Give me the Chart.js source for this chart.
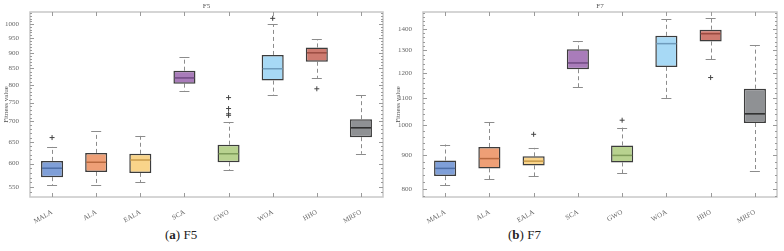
<!DOCTYPE html>
<html>
<head>
<meta charset="utf-8">
<script src="https://cdn.jsdelivr.net/npm/chart.js@4.4.0/dist/chart.umd.min.js"></script>
<style>
  body { margin: 0; background: #fff; width: 784px; height: 251px; overflow: hidden; position: relative; font-family: "Liberation Serif", serif; }
  canvas { position: absolute; top: 0; }
  #c5 { left: 0; }
  #c7 { left: 392px; }
  .cap { position: absolute; top: 227px; font-size: 13px; color: #222; white-space: nowrap; }
  .cap b { font-weight: 600; }
</style>
</head>
<body>
<canvas id="c5" width="392" height="225"></canvas>
<canvas id="c7" width="392" height="225"></canvas>
<div class="cap" style="left:165px">(<b>a</b>) F5</div>
<div class="cap" style="left:508px">(<b>b</b>) F7</div>
<script>
const categories = ['MALA', 'ALA', 'EALA', 'SCA', 'GWO', 'WOA', 'HHO', 'MRFO'];

// F5
const f5Min    = [555, 555, 561, 783, 586, 771, 821, 622];
const f5Q1     = [571, 582, 580, 804, 603, 813, 871, 661];
const f5Median = [590, 603, 608, 821, 622, 849, 900, 684];
const f5Q3     = [606, 624, 622, 843, 643, 893, 918, 706];
const f5Max    = [638, 676, 664, 886, 698, 999, 946, 770];
const f5Outliers = [
  { x: 'MALA', y: 660 }, { x: 'GWO', y: 764 }, { x: 'GWO', y: 734 },
  { x: 'GWO', y: 720 }, { x: 'GWO', y: 716 }, { x: 'WOA', y: 1021 }, { x: 'HHO', y: 789 }
];
const f5Ticks = [550, 600, 650, 700, 750, 800, 850, 900, 950, 1000];

// F7
const f7Min    = [810, 828, 836, 1143, 846, 1101, 1260, 852];
const f7Q1     = [837, 860, 869, 1217, 878, 1227, 1341, 1008];
const f7Median = [860, 890, 882, 1244, 900, 1331, 1378, 1041];
const f7Q3     = [884, 927, 897, 1305, 932, 1368, 1398, 1137];
const f7Max    = [935, 1011, 924, 1343, 992, 1450, 1455, 1324];
const f7Outliers = [{ x: 'EALA', y: 969 }, { x: 'GWO', y: 1018 }, { x: 'HHO', y: 1182 }];
const f7Ticks = [800, 900, 1000, 1100, 1200, 1300, 1400];

const fillColors   = ['#7f9fd8', '#ee9f76', '#f9d48a', '#a97cba', '#b8d28f', '#a7d9f5', '#ce7b70', '#8f9194'];
const medianColors = ['#4d6ea6', '#b8693f', '#c79a4a', '#6f4a82', '#7f9c5a', '#6e9cbc', '#9a4c42', '#2a2a2a'];

const serif = '"Liberation Serif", serif';

const boxPlugin = {
  id: 'boxWhisker',
  beforeDatasetsDraw(chart, args, o) {
    const { ctx, chartArea: a, scales: { x, y } } = chart;
    ctx.save();
    // frame
    ctx.strokeStyle = '#c8c8c8';
    ctx.lineWidth = 1.5;
    ctx.strokeRect(a.left, a.top, a.right - a.left, a.bottom - a.top);
    // inward ticks
    ctx.strokeStyle = '#9a9a9a';
    ctx.lineWidth = 1;
    ctx.beginPath();
    categories.forEach((c, i) => {
      const px = Math.round(x.getPixelForValue(i)) + 0.5;
      ctx.moveTo(px, a.bottom); ctx.lineTo(px, a.bottom - 4);
      ctx.moveTo(px, a.top); ctx.lineTo(px, a.top + 4);
    });
    o.ticks.forEach(v => {
      const py = Math.round(y.getPixelForValue(v)) + 0.5;
      ctx.moveTo(a.left, py); ctx.lineTo(a.left + 4, py);
      ctx.moveTo(a.right, py); ctx.lineTo(a.right - 4, py);
    });
    for (let v = o.minorFrom; v <= y.max; v += o.minorStep) {
      if (v < y.min || o.ticks.includes(v)) continue;
      const py = Math.round(y.getPixelForValue(v)) + 0.5;
      ctx.moveTo(a.left, py); ctx.lineTo(a.left + 2, py);
      ctx.moveTo(a.right, py); ctx.lineTo(a.right - 2, py);
    }
    ctx.stroke();
    // title
    ctx.fillStyle = '#555';
    ctx.font = '7px ' + serif;
    ctx.textAlign = 'center';
    ctx.textBaseline = 'middle';
    ctx.fillText(o.title, (a.left + a.right) / 2, a.top - 6);
    // whiskers
    ctx.strokeStyle = '#8c8c8c';
    ctx.setLineDash([4, 3]);
    ctx.beginPath();
    categories.forEach((c, i) => {
      const px = Math.round(x.getPixelForValue(i)) + 0.5;
      ctx.moveTo(px, y.getPixelForValue(o.q3[i])); ctx.lineTo(px, y.getPixelForValue(o.max[i]));
      ctx.moveTo(px, y.getPixelForValue(o.q1[i])); ctx.lineTo(px, y.getPixelForValue(o.min[i]));
    });
    ctx.stroke();
    ctx.setLineDash([]);
    ctx.beginPath();
    categories.forEach((c, i) => {
      const px = x.getPixelForValue(i);
      const top = Math.round(y.getPixelForValue(o.max[i])) + 0.5;
      const bot = Math.round(y.getPixelForValue(o.min[i])) + 0.5;
      ctx.moveTo(px - 5, top); ctx.lineTo(px + 5, top);
      ctx.moveTo(px - 5, bot); ctx.lineTo(px + 5, bot);
    });
    ctx.stroke();
    ctx.restore();
  },
  afterDatasetsDraw(chart, args, o) {
    const { ctx, scales: { y } } = chart;
    const bars = chart.getDatasetMeta(0).data;
    ctx.save();
    ctx.lineWidth = 1.5;
    bars.forEach((bar, i) => {
      const py = y.getPixelForValue(o.median[i]);
      ctx.strokeStyle = medianColors[i];
      ctx.beginPath();
      ctx.moveTo(bar.x - bar.width / 2 + 1, py);
      ctx.lineTo(bar.x + bar.width / 2 - 1, py);
      ctx.stroke();
    });
    ctx.restore();
  }
};

function makeChart(id, title, mins, q1, med, q3, maxs, outliers, yMin, yMax, ticks, minorFrom, minorStep, axisWidth, rightPad) {
  const ctx = document.getElementById(id).getContext('2d');
  return new Chart(ctx, {
    type: 'bar',
    data: {
      labels: categories,
      datasets: [
        {
          data: q1.map((v, i) => [v, q3[i]]),
          backgroundColor: fillColors,
          borderColor: '#3c3c3c',
          borderWidth: 1.5,
          borderSkipped: false,
          barPercentage: 0.5,
          categoryPercentage: 1
        },
        {
          type: 'line',
          data: outliers,
          showLine: false,
          pointStyle: 'cross',
          pointRadius: 2.5,
          pointBorderWidth: 1,
          pointBorderColor: '#444',
          pointBackgroundColor: '#444'
        }
      ]
    },
    options: {
      responsive: false,
      animation: false,
      layout: { padding: { top: 12, right: rightPad, left: 0, bottom: 0 } },
      plugins: {
        legend: { display: false },
        tooltip: { enabled: false },
        boxWhisker: { title: title, min: mins, q1: q1, median: med, q3: q3, max: maxs, ticks: ticks, minorFrom: minorFrom, minorStep: minorStep }
      },
      scales: {
        x: {
          grid: { display: false },
          border: { display: false },
          ticks: { color: '#666', font: { family: serif, size: 7 }, minRotation: 30, maxRotation: 30, padding: 3 },
          afterFit: s => { s.height = 28; }
        },
        y: {
          type: 'logarithmic',
          min: yMin,
          max: yMax,
          grid: { display: false },
          border: { display: false },
          afterBuildTicks: s => { s.ticks = ticks.map(v => ({ value: v })); },
          ticks: { color: '#666', font: { family: serif, size: 7 }, padding: 3, callback: v => String(v) },
          title: { display: true, text: 'Fitness value', color: '#555', font: { family: serif, size: 7 }, padding: { top: 2, bottom: 0 } },
          afterFit: s => { s.width = axisWidth; }
        }
      }
    },
    plugins: [boxPlugin]
  });
}

makeChart('c5', 'F5', f5Min, f5Q1, f5Median, f5Q3, f5Max, f5Outliers, 531, 1045, f5Ticks, 540, 10, 30, 9);
makeChart('c7', 'F7', f7Min, f7Q1, f7Median, f7Q3, f7Max, f7Outliers, 778, 1487, f7Ticks, 780, 20, 31, 7);
</script>
</body>
</html>
